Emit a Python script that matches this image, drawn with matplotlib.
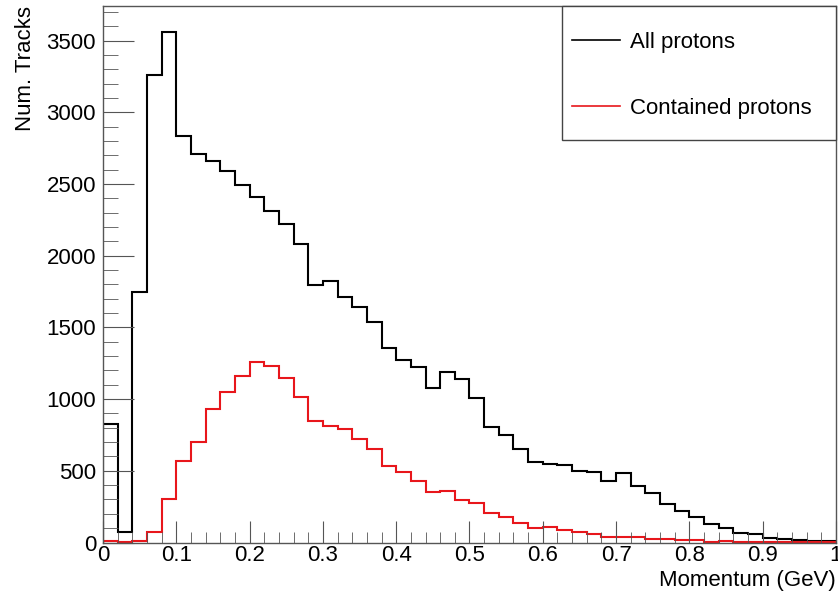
import numpy as np
import matplotlib
matplotlib.use('Agg')
import matplotlib.pyplot as plt
from matplotlib.patches import Rectangle
from matplotlib.ticker import MultipleLocator, FuncFormatter

plt.rcParams['font.family'] = ['Liberation Sans', 'DejaVu Sans']

# momentum bins (GeV), 50 bins of 0.02
bin_edges = np.linspace(0.0, 1.0, 51)

# all protons
all_protons = [825, 75, 1745, 3260, 3564, 2836, 2710, 2662, 2594, 2494,
               2413, 2313, 2220, 2080, 1797, 1824, 1711, 1645, 1540, 1359,
               1271, 1227, 1078, 1192, 1141, 1006, 808, 750, 650, 564,
               548, 541, 501, 494, 431, 487, 394, 348, 269, 220,
               176, 127, 99, 68, 59, 31, 22, 15, 10, 10]

# contained protons
contained_protons = [8, 2, 8, 75, 301, 571, 703, 934, 1052, 1164,
                     1262, 1234, 1146, 1017, 848, 813, 794, 720, 652, 534,
                     492, 427, 350, 362, 297, 273, 204, 176, 138, 101,
                     110, 89, 75, 57, 36, 36, 36, 27, 27, 17,
                     17, 3, 10, 3, 4, 3, 3, 2, 2, 2]

labels = ['All protons', 'Contained protons']

fs = 16

fig = plt.figure(figsize=(8.38, 5.92), dpi=100)
ax = fig.add_axes([0.1229, 0.0836, 0.8747, 0.9063])

ax.stairs(all_protons, bin_edges, color='black', lw=1.5, label=labels[0])
ax.stairs(contained_protons, bin_edges, color='#e8161b', lw=1.5, label=labels[1])

ax.set_xlim(0, 1)
ax.set_ylim(0, 1.05 * max(all_protons))

ax.xaxis.set_major_locator(MultipleLocator(0.1))
ax.xaxis.set_minor_locator(MultipleLocator(0.02))
ax.yaxis.set_major_locator(MultipleLocator(500))
ax.yaxis.set_minor_locator(MultipleLocator(100))
ax.xaxis.set_major_formatter(FuncFormatter(lambda v, p: '%g' % round(v, 2)))

ax.tick_params(which='both', direction='in', top=False, right=False,
               color='#555555', labelsize=fs)
ax.tick_params(axis='x', which='major', length=16, pad=2)
ax.tick_params(axis='x', which='minor', length=8)
ax.tick_params(axis='y', which='major', length=22, pad=5)
ax.tick_params(axis='y', which='minor', length=11)

for s in ax.spines.values():
    s.set_color('#555555')
    s.set_linewidth(1.0)

ax.set_xlabel('Momentum (GeV)', fontsize=fs, ha='right')
ax.xaxis.set_label_coords(1.0, -0.052)
ax.set_ylabel('Num. Tracks', fontsize=fs, ha='right')
ax.yaxis.set_label_coords(-0.092, 1.0)

# ROOT-style legend box
ax.add_patch(Rectangle((0.626, 0.750), 0.374, 0.25, transform=ax.transAxes,
                       facecolor='white', edgecolor='#444444', lw=1.0,
                       zorder=4, clip_on=False))
leg = ax.legend(loc='upper left', bbox_to_anchor=(0.6398, 0.951), fontsize=fs,
                frameon=False, handlelength=2.15, handletextpad=0.45,
                labelspacing=2.0, borderpad=0.0, borderaxespad=0.0)
for h in leg.get_lines():
    h.set_linewidth(1.2)
leg.set_zorder(5)

fig.savefig('out.png', dpi=100)
